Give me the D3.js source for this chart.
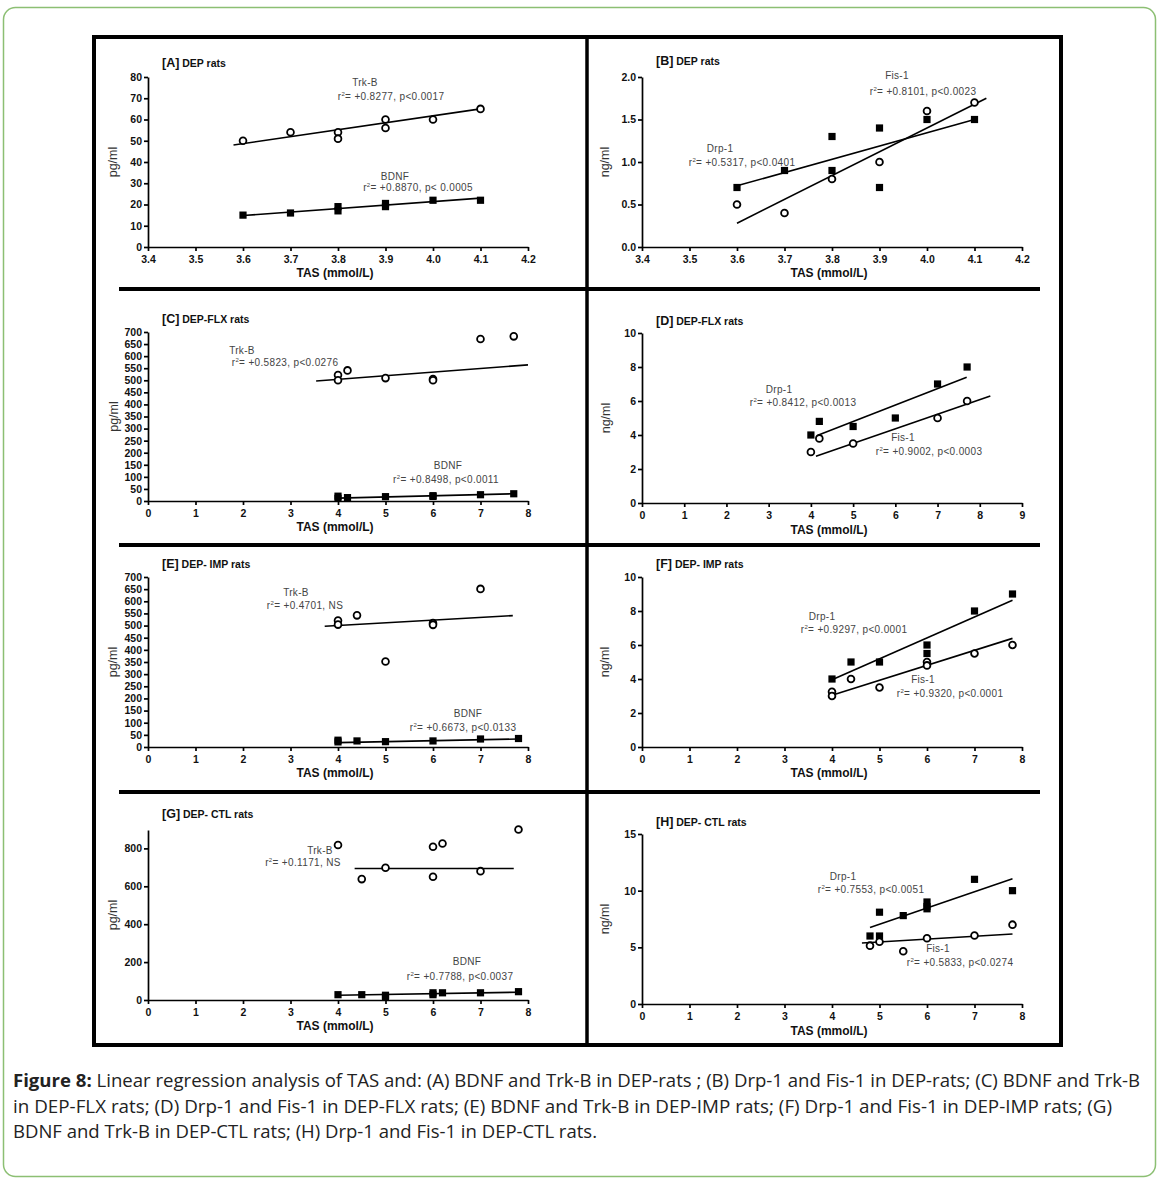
<!DOCTYPE html>
<html>
<head>
<meta charset="utf-8">
<script src="https://cdn.jsdelivr.net/npm/d3@7"></script>
<style>
body{margin:0;background:#fff}
svg text{font-family:"Liberation Sans",Arial,sans-serif}
</style>
</head>
<body>
<svg id="svg" width="1161" height="1182"></svg>
<script>
// ---- tick values ----
const tasTicksDep = [3.4,3.5,3.6,3.7,3.8,3.9,4.0,4.1,4.2];
const tasTicks8 = [0,1,2,3,4,5,6,7,8];
const tasTicks9 = [0,1,2,3,4,5,6,7,8,9];
const pgTicks80 = [0,10,20,30,40,50,60,70,80];
const ngTicks2 = [0,0.5,1,1.5,2];
const pgTicks700 = [0,50,100,150,200,250,300,350,400,450,500,550,600,650,700];
const ngTicks10 = [0,2,4,6,8,10];
const pgTicks800 = [0,200,400,600,800];
const ngTicks15 = [0,5,10,15];

// ---- series values [TAS, level] ----
const aTrkB = [[3.6,50],[3.7,54],[3.8,54],[3.8,51],[3.9,60],[3.9,56],[4.0,60],[4.1,65]];
const aBDNF = [[3.6,15],[3.7,16],[3.8,19],[3.8,17],[3.9,20.5],[3.9,19],[4.0,22],[4.1,22]];
const bDrp1 = [[3.6,0.7],[3.7,0.9],[3.8,1.3],[3.8,0.9],[3.9,1.4],[3.9,0.7],[4.0,1.5],[4.1,1.5]];
const bFis1 = [[3.6,0.5],[3.7,0.4],[3.8,0.8],[3.9,1.0],[4.0,1.6],[4.1,1.7]];
const cTrkB = [[4,522],[4,500],[4.2,541],[5,509],[6,505],[6,500],[7,671],[7.7,682]];
const cBDNF = [[4,20],[4,11],[4.2,14],[5,18],[6,22],[6,19],[7,26],[7.7,30]];
const dDrp1 = [[4,4],[4.2,4.8],[5,4.5],[6,5],[7,7],[7.7,8]];
const dFis1 = [[4,3],[4.2,3.8],[5,3.5],[7,5],[7.7,6]];
const eTrkB = [[4,521],[4,504],[4.4,542],[5,352],[6,510],[6,503],[7,651]];
const eBDNF = [[4,28],[4,21],[4.4,25],[5,22],[6,25],[7,33],[7.8,35]];
const fDrp1 = [[4,4],[4.4,5],[5,5],[6,6],[6,5.5],[7,8],[7.8,9]];
const fFis1 = [[4,3.25],[4,3],[4.4,4],[5,3.5],[6,5],[6,4.8],[7,5.5],[7.8,6]];
const gTrkB = [[4,818],[4.5,638],[5,698],[6,809],[6,650],[6.2,826],[7,680],[7.8,900]];
const gBDNF = [[4,28],[4.5,28],[5,25],[5,15],[6,38],[6,28],[6.2,38],[7,38],[7.8,44]];
const hDrp1 = [[4.8,6],[5,8.1],[5,6],[5.5,7.8],[6,9],[6,8.6],[6,8.4],[7,11],[7.8,10]];
const hFis1 = [[4.8,5.15],[5,5.5],[5.5,4.65],[6,5.8],[7,6.05],[7.8,7]];

// ---- regression lines [start, end] ----
const aTrkBFit = [[3.58,48],[4.1,65]];
const aBDNFFit = [[3.6,14.8],[4.1,23]];
const bDrp1Fit = [[3.6,0.72],[4.1,1.5]];
const bFis1Fit = [[3.6,0.28],[4.125,1.75]];
const cTrkBFit = [[3.54,497],[8,564]];
const cBDNFFit = [[4,12],[7.7,30]];
const dDrp1Fit = [[4.18,4.0],[7.69,7.4]];
const dFis1Fit = [[4.12,2.75],[8.25,6.3]];
const eTrkBFit = [[3.72,497],[7.68,541]];
const eBDNFFit = [[4,18],[7.8,33]];
const fDrp1Fit = [[4,3.95],[7.8,8.63]];
const fFis1Fit = [[4,3.05],[7.8,6.39]];
const gTrkBFit = [[4.35,694],[7.7,694]];
const gBDNFFit = [[4,25],[7.8,41]];
const hDrp1Fit = [[4.8,6.75],[7.8,11.05]];
const hFis1Fit = [[4.63,5.38],[7.8,6.18]];

// ---- annotation texts ----
const statTexts = ['+0.8277, p<0.0017','+0.8870, p< 0.0005','+0.8101, p<0.0023','+0.5317, p<0.0401',
  '+0.5823, p<0.0276','+0.8498, p<0.0011','+0.8412, p<0.0013','+0.9002, p<0.0003',
  '+0.4701, NS','+0.6673, p<0.0133','+0.9297, p<0.0001','+0.9320, p<0.0001',
  '+0.1171, NS','+0.7788, p<0.0037','+0.7553, p<0.0051','+0.5833, p<0.0274'];
const captionLines = [
  ' Linear regression analysis of TAS and: (A) BDNF and Trk-B in DEP-rats ; (B) Drp-1 and Fis-1 in DEP-rats; (C) BDNF and Trk-B',
  'in DEP-FLX rats; (D) Drp-1 and Fis-1 in DEP-FLX rats; (E) BDNF and Trk-B in DEP-IMP rats; (F) Drp-1 and Fis-1 in DEP-IMP rats; (G)',
  'BDNF and Trk-B in DEP-CTL rats; (H) Drp-1 and Fis-1 in DEP-CTL rats.'
];

const f1 = d3.format('.1f'), f0 = d3.format('d');
const L = {left:148, right:528}, R = {left:642, right:1022};

const panels = [
  {key:'A', name:'DEP rats', ...L, top:77, bottom:247, xd:[3.4,4.2], xt:tasTicksDep, xf:f1, yd:[0,80], yt:pgTicks80, yf:f0,
   unit:'pg/ml', ux:113, titleY:67, xlY:277,
   series:[{d:aTrkB, fit:aTrkBFit, sym:'o', name:'Trk-B', nx:365, ny:86, s:0, sx:391, sy:100},
           {d:aBDNF, fit:aBDNFFit, sym:'s', name:'BDNF', nx:395, ny:180, s:1, sx:418, sy:191}]},
  {key:'B', name:'DEP rats', ...R, top:77, bottom:247, xd:[3.4,4.2], xt:tasTicksDep, xf:f1, yd:[0,2], yt:ngTicks2, yf:f1,
   unit:'ng/ml', ux:605, titleY:65, xlY:277,
   series:[{d:bDrp1, fit:bDrp1Fit, sym:'s', name:'Drp-1', nx:720, ny:152, s:3, sx:742, sy:166},
           {d:bFis1, fit:bFis1Fit, sym:'o', name:'Fis-1', nx:897, ny:79, s:2, sx:923, sy:95}]},
  {key:'C', name:'DEP-FLX rats', ...L, top:332, bottom:501, xd:[0,8], xt:tasTicks8, xf:f0, yd:[0,700], yt:pgTicks700, yf:f0,
   unit:'pg/ml', ux:114, titleY:323, xlY:531,
   series:[{d:cTrkB, fit:cTrkBFit, sym:'o', name:'Trk-B', nx:242, ny:354, s:4, sx:285, sy:366},
           {d:cBDNF, fit:cBDNFFit, sym:'s', name:'BDNF', nx:448, ny:469, s:5, sx:446, sy:483}]},
  {key:'D', name:'DEP-FLX rats', ...R, top:333, bottom:503, xd:[0,9], xt:tasTicks9, xf:f0, yd:[0,10], yt:ngTicks10, yf:f0,
   unit:'ng/ml', ux:606, titleY:325, xlY:534,
   series:[{d:dDrp1, fit:dDrp1Fit, sym:'s', name:'Drp-1', nx:779, ny:393, s:6, sx:803, sy:406},
           {d:dFis1, fit:dFis1Fit, sym:'o', name:'Fis-1', nx:903, ny:441, s:7, sx:929, sy:455}]},
  {key:'E', name:'DEP- IMP rats', ...L, top:577, bottom:747, xd:[0,8], xt:tasTicks8, xf:f0, yd:[0,700], yt:pgTicks700, yf:f0,
   unit:'pg/ml', ux:113, titleY:568, xlY:777,
   series:[{d:eTrkB, fit:eTrkBFit, sym:'o', name:'Trk-B', nx:296, ny:596, s:8, sx:305, sy:609},
           {d:eBDNF, fit:eBDNFFit, sym:'s', name:'BDNF', nx:468, ny:717, s:9, sx:463, sy:731}]},
  {key:'F', name:'DEP- IMP rats', ...R, top:577, bottom:747, xd:[0,8], xt:tasTicks8, xf:f0, yd:[0,10], yt:ngTicks10, yf:f0,
   unit:'ng/ml', ux:605, titleY:568, xlY:777,
   series:[{d:fDrp1, fit:fDrp1Fit, sym:'s', name:'Drp-1', nx:822, ny:620, s:10, sx:854, sy:633},
           {d:fFis1, fit:fFis1Fit, sym:'o', name:'Fis-1', nx:923, ny:683, s:11, sx:950, sy:697}]},
  {key:'G', name:'DEP- CTL rats', ...L, top:830, bottom:1000, xd:[0,8], xt:tasTicks8, xf:f0, yd:[0,897], yt:pgTicks800, yf:f0,
   unit:'pg/ml', ux:113, titleY:818, xlY:1030,
   series:[{d:gTrkB, fit:gTrkBFit, sym:'o', name:'Trk-B', nx:320, ny:854, s:12, sx:303, sy:866},
           {d:gBDNF, fit:gBDNFFit, sym:'s', name:'BDNF', nx:467, ny:965, s:13, sx:460, sy:980}]},
  {key:'H', name:'DEP- CTL rats', ...R, top:834, bottom:1004, xd:[0,8], xt:tasTicks8, xf:f0, yd:[0,15], yt:ngTicks15, yf:f0,
   unit:'ng/ml', ux:605, titleY:826, xlY:1035,
   series:[{d:hDrp1, fit:hDrp1Fit, sym:'s', name:'Drp-1', nx:843, ny:880, s:14, sx:871, sy:893},
           {d:hFis1, fit:hFis1Fit, sym:'o', name:'Fis-1', nx:938, ny:952, s:15, sx:960, sy:966}]}
];

const svg = d3.select('#svg').attr('font-family','"Liberation Sans",Arial,sans-serif');

// outer green card
svg.append('rect').attr('x',3.5).attr('y',7.5).attr('width',1152).attr('height',1169).attr('rx',12)
  .attr('fill','#fff').attr('stroke','#8cbf73').attr('stroke-width',1.5);

// black frame and dividers
svg.append('rect').attr('x',94).attr('y',37).attr('width',967).attr('height',1008)
  .attr('fill','none').attr('stroke','#000').attr('stroke-width',4);
svg.append('line').attr('x1',587).attr('x2',587).attr('y1',37).attr('y2',1045).attr('stroke','#000').attr('stroke-width',3.5);
[289,545,792].forEach(yy => {
  svg.append('line').attr('x1',119).attr('x2',1040).attr('y1',yy).attr('y2',yy).attr('stroke','#000').attr('stroke-width',4);
});

function stat(g, x, y, txt){
  const t = g.append('text').attr('x',x).attr('y',y).attr('text-anchor','middle')
    .attr('font-size',10).attr('letter-spacing',0.35).attr('fill','#444');
  t.append('tspan').text('r');
  t.append('tspan').attr('font-size',6).attr('dy',-4).text('2');
  t.append('tspan').attr('dy',4).text('= ' + txt);
}

panels.forEach(p => {
  const x = d3.scaleLinear().domain(p.xd).range([p.left,p.right]);
  const y = d3.scaleLinear().domain(p.yd).range([p.bottom,p.top]);
  const g = svg.append('g');

  const xa = g.append('g').attr('transform',`translate(0,${p.bottom})`)
    .call(d3.axisBottom(x).tickValues(p.xt).tickFormat(p.xf).tickSize(4).tickSizeOuter(0).tickPadding(5));
  const ya = g.append('g').attr('transform',`translate(${p.left},0)`)
    .call(d3.axisLeft(y).tickValues(p.yt).tickFormat(p.yf).tickSize(4).tickSizeOuter(0).tickPadding(2));
  [xa,ya].forEach(a => {
    a.attr('font-family',null).attr('font-size',null);
    a.selectAll('path,line').attr('stroke','#000').attr('stroke-width',1.7);
    a.selectAll('text').attr('font-size',10.5).attr('font-weight','bold').attr('fill','#111');
  });

  // titles and axis labels
  const t = g.append('text').attr('x', p.left + 14).attr('y', p.titleY).attr('font-weight','bold').attr('fill','#111');
  t.append('tspan').attr('font-size',12.5).text('[' + p.key + ']');
  t.append('tspan').attr('font-size',10.5).text(' ' + p.name);
  g.append('text').attr('x',(p.left+p.right)/2 - 3).attr('y',p.xlY).attr('text-anchor','middle')
    .attr('font-size',12).attr('font-weight','bold').attr('fill','#111').text('TAS (mmol/L)');
  g.append('text').attr('transform',`translate(${p.ux + 4},${(p.top+p.bottom)/2}) rotate(-90)`)
    .attr('text-anchor','middle').attr('font-size',12.5).attr('fill','#333').text(p.unit);

  p.series.forEach(s => {
    g.append('line').attr('x1',x(s.fit[0][0])).attr('y1',y(s.fit[0][1]))
      .attr('x2',x(s.fit[1][0])).attr('y2',y(s.fit[1][1])).attr('stroke','#000').attr('stroke-width',1.6);
  });
  p.series.forEach(s => {
    if(s.sym == 'o'){
      g.selectAll(null).data(s.d).enter().append('circle')
        .attr('cx',d => x(d[0])).attr('cy',d => y(d[1])).attr('r',3.4)
        .attr('fill','#fff').attr('stroke','#000').attr('stroke-width',1.8);
    }else{
      g.selectAll(null).data(s.d).enter().append('rect')
        .attr('x',d => x(d[0]) - 3.6).attr('y',d => y(d[1]) - 3.6).attr('width',7.2).attr('height',7.2).attr('fill','#000');
    }
    g.append('text').attr('x',s.nx).attr('y',s.ny).attr('text-anchor','middle')
      .attr('font-size',10).attr('letter-spacing',0.3).attr('fill','#444').text(s.name);
    stat(g, s.sx, s.sy, statTexts[s.s]);
  });
});

// caption
const capY = [1087,1113,1138], capW = [1127,1099,584];
captionLines.forEach((line,i) => {
  const t = svg.append('text').attr('x',13).attr('y',capY[i]).attr('font-size',18.5)
    .attr('fill','#222').style('font-family','"Open Sans","Noto Sans",sans-serif')
    .attr('textLength',capW[i]).attr('lengthAdjust','spacingAndGlyphs');
  if(i == 0) t.append('tspan').attr('font-weight','bold').text('Figure 8:');
  t.append('tspan').text(line);
});
</script>
</body>
</html>
